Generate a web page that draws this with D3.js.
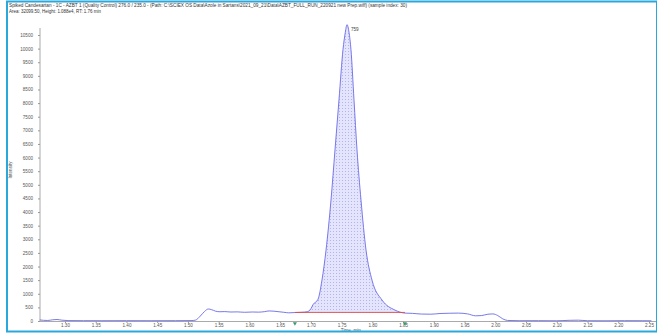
<!DOCTYPE html>
<html>
<head>
<meta charset="utf-8">
<script src="https://cdn.jsdelivr.net/npm/d3@7"></script>
<style>
  html, body { margin: 0; padding: 0; background: #fff; }
  svg { display: block; font-family: "Liberation Sans", Arial, sans-serif; }
</style>
</head>
<body>
<svg id="chart" width="657" height="333"></svg>
<script>
// header lines
const headerLines = [
  "Spiked Candesartan - 1C - AZBT 1 (Quality Control) 276.0 / 235.0 - (Path: C:\\SCIEX OS Data\\Azole in Sartans\\2021_09_21\\Data\\AZBT_FULL_RUN_220921 new Prep.wiff) (sample index: 30)",
  "Area: 32099.50, Height: 1.088e4, RT: 1.76 min"
];

// trace (time in min, intensity in cps)
const times = [
  1.259, 1.265, 1.272, 1.280, 1.287, 1.295, 1.305, 1.330, 1.360, 1.400,
  1.440, 1.480, 1.505, 1.512, 1.520, 1.527, 1.533, 1.538, 1.545, 1.552,
  1.560, 1.570, 1.580, 1.592, 1.605, 1.615, 1.625, 1.632, 1.640, 1.648,
  1.656, 1.664, 1.674, 1.685, 1.694, 1.700, 1.7034, 1.7116, 1.718, 1.7246,
  1.7327, 1.7392, 1.7457, 1.7522, 1.756, 1.7587, 1.762, 1.7652, 1.7701, 1.775,
  1.7815, 1.7897, 1.7994, 1.8157, 1.8368, 1.853, 1.865, 1.880, 1.895, 1.910,
  1.925, 1.940, 1.955, 1.968, 1.978, 1.988, 1.996, 2.004, 2.012, 2.020,
  2.040, 2.070, 2.100, 2.120, 2.135, 2.150, 2.180, 2.210, 2.240, 2.254
];
const intensity = [
  40, 25, 20, 45, 55, 30, 15, 12, 10, 12,
  10, 12, 15, 30, 180, 350, 440, 420, 360, 340,
  345, 330, 335, 320, 330, 325, 345, 370, 360, 340,
  320, 300, 310, 320, 340, 450, 600, 800, 1500, 2600,
  4440, 6280, 8120, 9960, 10600, 10880, 10600, 9960, 8120, 6280,
  4440, 2600, 1500, 770, 400, 290, 280, 255, 250, 275,
  285, 290, 260, 190, 200, 250, 260, 200, 80, 20,
  10, 12, 8, 25, 30, 10, 8, 12, 10, 8
];

// integration
const peakStart = 1.674;
const peakEnd = 1.853;
const baselineLevel = 315;
const apexLabel = "759";

// axes
const xTicks = [1.30, 1.35, 1.40, 1.45, 1.50, 1.55, 1.60, 1.65, 1.70, 1.75,
                1.80, 1.85, 1.90, 1.95, 2.00, 2.05, 2.10, 2.15, 2.20, 2.25];
const yTicks = d3.range(0, 10501, 500);

const svg = d3.select("#chart");
const W = 657, H = 333;

const x = d3.scaleLinear().domain([1.30, 2.25]).range([65, 649]);
const y = d3.scaleLinear().domain([0, 10500]).range([321, 35]);

const data = times.map((t, i) => ({ t: t, v: intensity[i] }));

// fill pattern for integrated area
const defs = svg.append("defs");
const pat = defs.append("pattern")
  .attr("id", "dots")
  .attr("width", 3).attr("height", 3)
  .attr("patternUnits", "userSpaceOnUse");
pat.append("rect").attr("width", 3).attr("height", 3).attr("fill", "#e4e4fd");
pat.append("rect").attr("width", 1).attr("height", 1).attr("fill", "#b3b3ef");

// header
svg.selectAll("text.hdr")
  .data(headerLines)
  .enter()
  .append("text")
  .attr("class", "hdr")
  .attr("x", 9)
  .attr("y", (d, i) => 7 + i * 5.5)
  .attr("font-size", 4.6)
  .attr("fill", "#333")
  .attr("textLength", (d, i) => i === 0 ? 398 : 92)
  .attr("lengthAdjust", "spacingAndGlyphs")
  .text(d => d);

// y axis
svg.append("g")
  .attr("transform", "translate(40,0)")
  .call(d3.axisLeft(y)
    .tickValues(yTicks)
    .tickSize(2)
    .tickPadding(5)
    .tickFormat(d3.format("d")))
  .call(g => g.select(".domain").attr("stroke", "#aaa").attr("d", "M0,28V321"))
  .call(g => g.selectAll(".tick line").attr("stroke", "#999"))
  .call(g => g.selectAll("text").attr("fill", "#555").attr("font-size", 4.6)
    .attr("font-family", "Liberation Sans, Arial, sans-serif"));

// x axis
svg.append("g")
  .attr("transform", "translate(0,321.5)")
  .call(d3.axisBottom(x)
    .tickValues(xTicks)
    .tickSize(1.5)
    .tickPadding(0.5)
    .tickFormat(d3.format(".2f")))
  .call(g => g.select(".domain").attr("stroke", "#aaa").attr("d", "M40,0H657"))
  .call(g => g.selectAll(".tick line").attr("stroke", "#999"))
  .call(g => g.selectAll("text").attr("fill", "#555").attr("font-size", 4.6)
    .attr("font-family", "Liberation Sans, Arial, sans-serif"));

// axis titles
svg.append("text")
  .attr("transform", "translate(12,170) rotate(-90)")
  .attr("text-anchor", "middle")
  .attr("font-size", 4.6)
  .attr("fill", "#555")
  .text("Intensity");

svg.append("text")
  .attr("x", x(1.765))
  .attr("y", 331.5)
  .attr("text-anchor", "middle")
  .attr("font-size", 4.6)
  .attr("fill", "#555")
  .text("Time, min");

// integrated area
const peakData = data.filter(d => d.t >= peakStart && d.t <= peakEnd);
svg.append("path")
  .datum(peakData)
  .attr("fill", "url(#dots)")
  .attr("d", d3.area()
    .curve(d3.curveMonotoneX)
    .x(d => x(d.t))
    .y0(y(baselineLevel))
    .y1(d => y(d.v)));

// trace
svg.append("path")
  .datum(data)
  .attr("fill", "none")
  .attr("stroke", "#6a6ae6")
  .attr("stroke-width", 0.9)
  .attr("d", d3.line()
    .curve(d3.curveMonotoneX)
    .x(d => x(d.t))
    .y(d => y(d.v)));

// baseline
svg.append("line")
  .attr("x1", x(peakStart)).attr("x2", x(peakEnd))
  .attr("y1", y(baselineLevel)).attr("y2", y(baselineLevel))
  .attr("stroke", "#e04848")
  .attr("stroke-width", 0.9);

// start / end markers
svg.selectAll("path.mark")
  .data([peakStart, peakEnd])
  .enter()
  .append("path")
  .attr("class", "mark")
  .attr("d", d3.symbol().type(d3.symbolTriangle).size(7))
  .attr("transform", d => `translate(${x(d)},323.5) rotate(180)`)
  .attr("fill", "#3c9a6c");

// apex label
const apex = data.reduce((a, b) => b.v > a.v ? b : a);
svg.append("text")
  .attr("x", x(apex.t) + 4)
  .attr("y", y(apex.v) + 6)
  .attr("font-size", 4.6)
  .attr("fill", "#444")
  .text(apexLabel);

// frame
svg.append("rect")
  .attr("x", 7).attr("y", 1.5)
  .attr("width", W - 7).attr("height", H - 3)
  .attr("fill", "none")
  .attr("stroke", "#2aa8dc")
  .attr("stroke-width", 2);
</script>
</body>
</html>
